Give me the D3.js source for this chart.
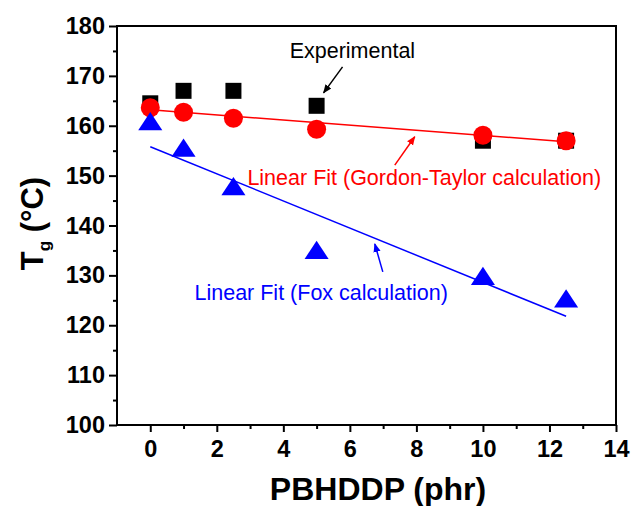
<!DOCTYPE html>
<html>
<head>
<meta charset="utf-8">
<script src="https://cdn.jsdelivr.net/npm/d3@7"></script>
<style>
  body { margin: 0; background: #fff; }
  text { font-family: Arial, "Liberation Sans", sans-serif; }
</style>
</head>
<body>
<div id="chart"></div>
<script>
// data
const phr = [0, 1, 2.5, 5, 10, 12.5];
const experimental = [164.5, 167, 167, 164, 157, 157];
const gordonTaylor = [163.6, 162.7, 161.5, 159.3, 158.1, 157.0];
const fox = [160.5, 155.2, 147.5, 134.7, 129.5, 125.0];
const gtFit = [[0, 163.2], [12.5, 156.8]];
const foxFit = [[0, 155.8], [12.5, 121.8]];
const xTicks = [0, 2, 4, 6, 8, 10, 12, 14];
const yTicks = [100, 110, 120, 130, 140, 150, 160, 170, 180];

const svgWidth = 632, svgHeight = 506;
const margin = {top: 26, right: 16, bottom: 81, left: 117};
const width = svgWidth - margin.left - margin.right;
const height = svgHeight - margin.top - margin.bottom;

const svg = d3.select('#chart')
    .append('svg')
    .attr('width', svgWidth)
    .attr('height', svgHeight);

const g = svg.append('g')
    .attr('transform', `translate(${margin.left},${margin.top})`);

const x = d3.scaleLinear().domain([-1, 14]).range([0, width]);
const y = d3.scaleLinear().domain([100, 180]).range([height, 0]);

// arrow heads
const defs = svg.append('defs');
[['k', '#000'], ['r', '#f00'], ['b', '#00f']].forEach(([id, c]) => {
    defs.append('marker')
        .attr('id', 'arr-' + id)
        .attr('viewBox', '0 0 10 10')
        .attr('refX', 9).attr('refY', 5)
        .attr('markerWidth', 9).attr('markerHeight', 9)
        .attr('markerUnits', 'userSpaceOnUse')
        .attr('orient', 'auto')
        .append('path')
        .attr('d', 'M0,1 L10,5 L0,9 Z')
        .attr('fill', c);
});

// minor ticks
g.append('g')
    .attr('transform', `translate(0,${height})`)
    .call(d3.axisBottom(x).tickValues(d3.range(1, 14, 2)).tickSize(4).tickFormat(''))
    .call(a => a.select('.domain').remove())
    .selectAll('line').attr('stroke-width', 2);
g.append('g')
    .call(d3.axisLeft(y).tickValues(d3.range(105, 180, 10)).tickSize(4).tickFormat(''))
    .call(a => a.select('.domain').remove())
    .selectAll('line').attr('stroke-width', 2);

// major ticks
const xAxis = g.append('g')
    .attr('transform', `translate(0,${height})`)
    .call(d3.axisBottom(x).tickValues(xTicks).tickSize(7).tickPadding(8));
const yAxis = g.append('g')
    .call(d3.axisLeft(y).tickValues(yTicks).tickSize(8).tickPadding(4));
[xAxis, yAxis].forEach(a => {
    a.select('.domain').remove();
    a.selectAll('line').attr('stroke-width', 2);
    a.selectAll('text')
        .attr('font-family', 'Arial, "Liberation Sans", sans-serif')
        .attr('font-size', 23.5).attr('font-weight', 'bold').attr('fill', '#000');
});

// frame
g.append('rect')
    .attr('width', width).attr('height', height)
    .attr('fill', 'none').attr('stroke', '#000').attr('stroke-width', 2);

// fit lines
const line = d3.line().x(d => x(d[0])).y(d => y(d[1]));
g.append('path').datum(gtFit).attr('d', line)
    .attr('stroke', '#f00').attr('stroke-width', 1.5).attr('fill', 'none');
g.append('path').datum(foxFit).attr('d', line)
    .attr('stroke', '#00f').attr('stroke-width', 1.5).attr('fill', 'none');

// experimental squares
const sq = 16;
g.selectAll('.exp').data(phr).join('rect')
    .attr('class', 'exp')
    .attr('x', (d) => x(d) - sq / 2)
    .attr('y', (d, i) => y(experimental[i]) - sq / 2)
    .attr('width', sq).attr('height', sq)
    .attr('fill', '#000');

// Gordon-Taylor circles
g.selectAll('.gt').data(phr).join('circle')
    .attr('class', 'gt')
    .attr('cx', d => x(d))
    .attr('cy', (d, i) => y(gordonTaylor[i]))
    .attr('r', 9.5)
    .attr('fill', '#f00');

// Fox triangles
const tri = d3.symbol().type(d3.symbolTriangle).size(200);
g.selectAll('.fox').data(phr).join('path')
    .attr('class', 'fox')
    .attr('d', tri)
    .attr('transform', (d, i) => `translate(${x(d)},${y(fox[i]) + 1}) scale(1.12,0.98)`)
    .attr('fill', '#00f');

// annotations (data units)
const notes = [
    {text: 'Experimental', color: '#000', id: 'k', tx: 4.19, ty: 173.6, a: [[5.78, 171.8], [5.21, 166.6]]},
    {text: 'Linear Fit (Gordon-Taylor calculation)', color: '#f00', id: 'r', tx: 2.92, ty: 148.1, a: [[7.35, 152.1], [7.95, 157.8]]},
    {text: 'Linear Fit (Fox calculation)', color: '#00f', id: 'b', tx: 1.33, ty: 125.1, a: [[6.99, 130.7], [6.75, 136.3]]}
];
notes.forEach(n => {
    g.append('text')
        .attr('x', x(n.tx)).attr('y', y(n.ty))
        .attr('font-size', 21.5).attr('fill', n.color)
        .text(n.text);
    g.append('line')
        .attr('x1', x(n.a[0][0])).attr('y1', y(n.a[0][1]))
        .attr('x2', x(n.a[1][0])).attr('y2', y(n.a[1][1]))
        .attr('stroke', n.color).attr('stroke-width', 1.5)
        .attr('marker-end', `url(#arr-${n.id})`);
});

// axis titles
svg.append('text')
    .attr('x', 378).attr('y', 500)
    .attr('text-anchor', 'middle')
    .attr('font-size', 32).attr('font-weight', 'bold')
    .text('PBHDDP (phr)');

const yt = svg.append('text')
    .attr('transform', `translate(43,${margin.top + height / 2 - 2}) rotate(-90)`)
    .attr('text-anchor', 'middle')
    .attr('font-size', 31).attr('font-weight', 'bold');
yt.append('tspan').text('T');
yt.append('tspan').attr('font-size', 17).attr('dy', 7).text('g');
yt.append('tspan').attr('dy', -7).text(' (\u00B0C)');
</script>
</body>
</html>
